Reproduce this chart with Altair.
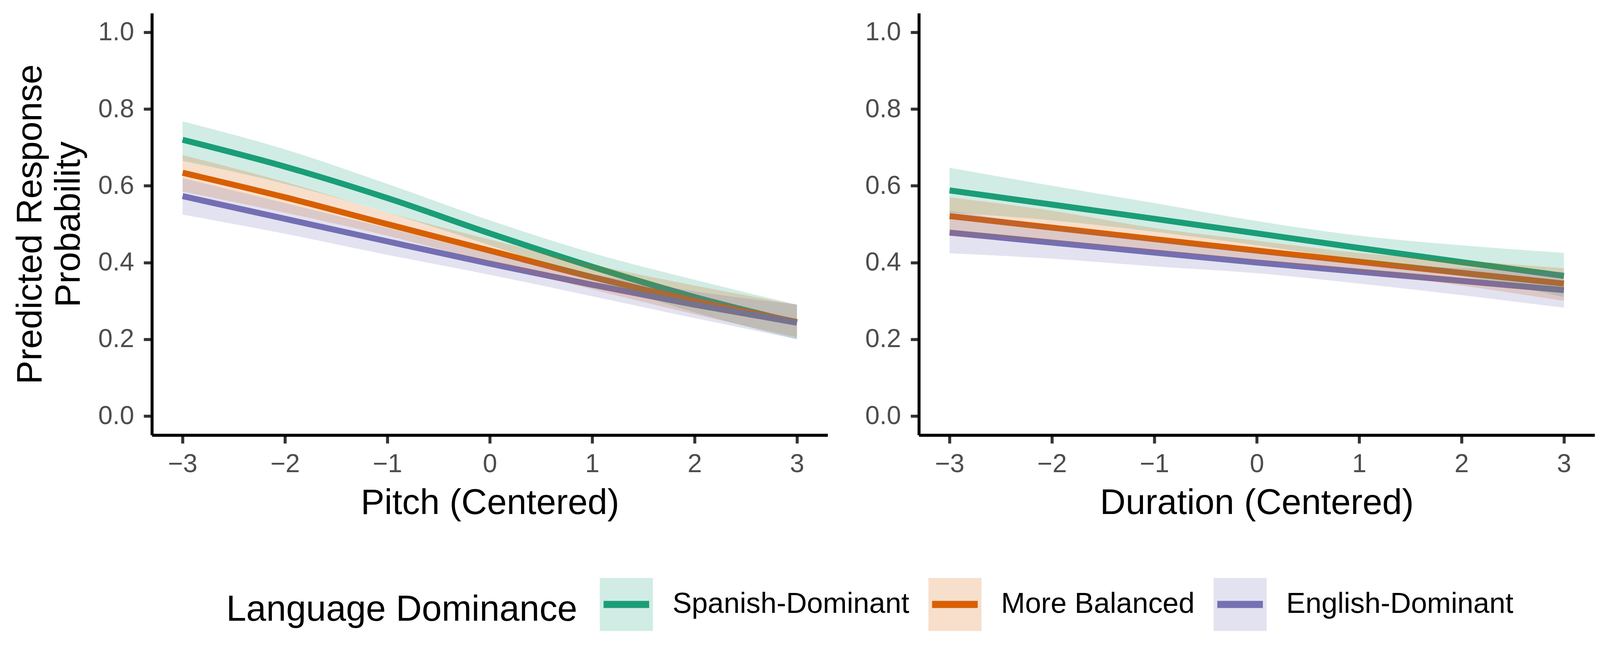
import pandas as pd
import altair as alt

FONT = "Liberation Sans"

# predictor values (centered)
x_vals = [-3, -2, -1, 0, 1, 2, 3]
groups = ["Spanish-Dominant", "More Balanced", "English-Dominant"]
line_colors = ["#1B9E77", "#D95F02", "#7570B3"]
band_colors = ["#1B9E7733", "#D95F0233", "#7570B333"]  # same hues, alpha 0.2

# Pitch panel: predicted probability and 95% band
pitch_spanish = [0.720, 0.650, 0.568, 0.476, 0.389, 0.310, 0.243]
pitch_spanish_lo = [0.665, 0.605, 0.530, 0.445, 0.355, 0.270, 0.200]
pitch_spanish_hi = [0.768, 0.695, 0.605, 0.510, 0.425, 0.355, 0.290]
pitch_balanced = [0.634, 0.570, 0.500, 0.431, 0.362, 0.300, 0.245]
pitch_balanced_lo = [0.585, 0.530, 0.470, 0.400, 0.330, 0.265, 0.205]
pitch_balanced_hi = [0.680, 0.610, 0.530, 0.460, 0.395, 0.340, 0.290]
pitch_english = [0.573, 0.514, 0.455, 0.397, 0.342, 0.290, 0.243]
pitch_english_lo = [0.525, 0.475, 0.420, 0.368, 0.312, 0.255, 0.200]
pitch_english_hi = [0.620, 0.555, 0.490, 0.425, 0.370, 0.325, 0.290]

# Duration panel
dur_spanish = [0.588, 0.551, 0.514, 0.476, 0.438, 0.401, 0.365]
dur_spanish_lo = [0.530, 0.510, 0.480, 0.445, 0.405, 0.365, 0.310]
dur_spanish_hi = [0.647, 0.600, 0.555, 0.508, 0.470, 0.445, 0.425]
dur_balanced = [0.521, 0.491, 0.461, 0.431, 0.402, 0.373, 0.345]
dur_balanced_lo = [0.470, 0.455, 0.430, 0.405, 0.375, 0.340, 0.300]
dur_balanced_hi = [0.570, 0.535, 0.490, 0.457, 0.425, 0.405, 0.385]
dur_english = [0.478, 0.452, 0.426, 0.400, 0.376, 0.352, 0.328]
dur_english_lo = [0.424, 0.410, 0.390, 0.372, 0.345, 0.315, 0.282]
dur_english_hi = [0.535, 0.495, 0.460, 0.428, 0.400, 0.385, 0.375]


def build(fits, los, his):
    rows = []
    for g, fit, lo, hi in zip(groups, fits, los, his):
        for x, f, l, h in zip(x_vals, fit, lo, hi):
            rows.append({"x": x, "fit": f, "lo": l, "hi": h, "group": g})
    return pd.DataFrame(rows)


pitch = build([pitch_spanish, pitch_balanced, pitch_english],
              [pitch_spanish_lo, pitch_balanced_lo, pitch_english_lo],
              [pitch_spanish_hi, pitch_balanced_hi, pitch_english_hi])
duration = build([dur_spanish, dur_balanced, dur_english],
                 [dur_spanish_lo, dur_balanced_lo, dur_english_lo],
                 [dur_spanish_hi, dur_balanced_hi, dur_english_hi])

# one legend for fill + stroke: the key is a filled square, and a dash
# pattern strokes only the middle segment of its outline path
key_path = "M-0.86,0H0.86H1V-1H-1V1H1V0"
legend = alt.Legend(
    orient="none", legendX=199, legendY=1500, direction="horizontal",
    title="Language Dominance", titleOrient="left", titleFont=FONT,
    titleFontSize=96, titleFontWeight="normal", titleColor="black",
    titlePadding=50, titleAnchor="middle", titleBaseline="middle",
    titleLimit=3000, labelFont=FONT, labelFontSize=77, labelColor="black",
    labelLimit=3000, labelOffset=43, columnPadding=12, padding=0,
    symbolType=key_path, symbolSize=20164, symbolStrokeWidth=19,
    symbolDash=[122, 3000],
)

xscale = alt.Scale(domain=[-3.3, 3.3], nice=False, zero=False)
yscale = alt.Scale(domain=[-0.05, 1.05], nice=False, zero=False)


def panel(df, xtitle, ytitle, outer_title):
    base = alt.Chart(df)
    yaxis = alt.Axis(values=[0, 0.2, 0.4, 0.6, 0.8, 1.0], format=".1f",
                     titlePadding=30)
    xaxis = alt.Axis(values=x_vals, format="d", labelPadding=22, titlePadding=22)
    lines = base.mark_line(strokeWidth=16, interpolate="monotone").encode(
        x=alt.X("x:Q", scale=xscale, axis=xaxis, title=xtitle),
        y=alt.Y("fit:Q", scale=yscale, axis=yaxis, title=ytitle),
        stroke=alt.Stroke("group:N", scale=alt.Scale(domain=groups, range=line_colors),
                          legend=legend),
    )
    if outer_title:
        outer_axis = alt.Axis(orient="left", labels=False, ticks=False,
                              domain=False, grid=False, titleX=-296, titleY=564,
                              titleAngle=270, titleAlign="center",
                              titleBaseline="alphabetic")
        band_y = alt.Y("lo:Q", scale=yscale, axis=outer_axis, title=outer_title)
    else:
        band_y = alt.Y("lo:Q", scale=yscale, title=ytitle)
    bands = base.mark_area(opacity=1, interpolate="monotone").encode(
        x="x:Q",
        y=band_y,
        y2="hi:Q",
        fill=alt.Fill("group:N", scale=alt.Scale(domain=groups, range=band_colors),
                      legend=legend),
    )
    layered = alt.layer(lines, bands).properties(width=1808, height=1128)
    if outer_title:
        layered = layered.resolve_axis(y="independent")
    return layered


left = panel(pitch, "Pitch (Centered)", "Probability", "Predicted Response")
right = panel(duration, "Duration (Centered)", "", "")

chart = alt.hconcat(left, right, spacing=98).resolve_scale(
    stroke="shared", fill="shared"
).properties(
    padding={"left": 25, "top": -12, "right": 5, "bottom": 5}
).configure_axis(
    domainColor="black", domainWidth=8, tickColor="#333333", tickWidth=8,
    tickSize=22, labelFont=FONT, labelFontSize=69, labelColor="#4d4d4d",
    labelPadding=26, labelFlush=False, labelOverlap=False, titleFont=FONT,
    titleFontSize=95, titleColor="black", titleFontWeight="normal", grid=False,
).configure_view(stroke="transparent")

chart.save("out.html", embed_options={"renderer": "svg", "actions": False})
